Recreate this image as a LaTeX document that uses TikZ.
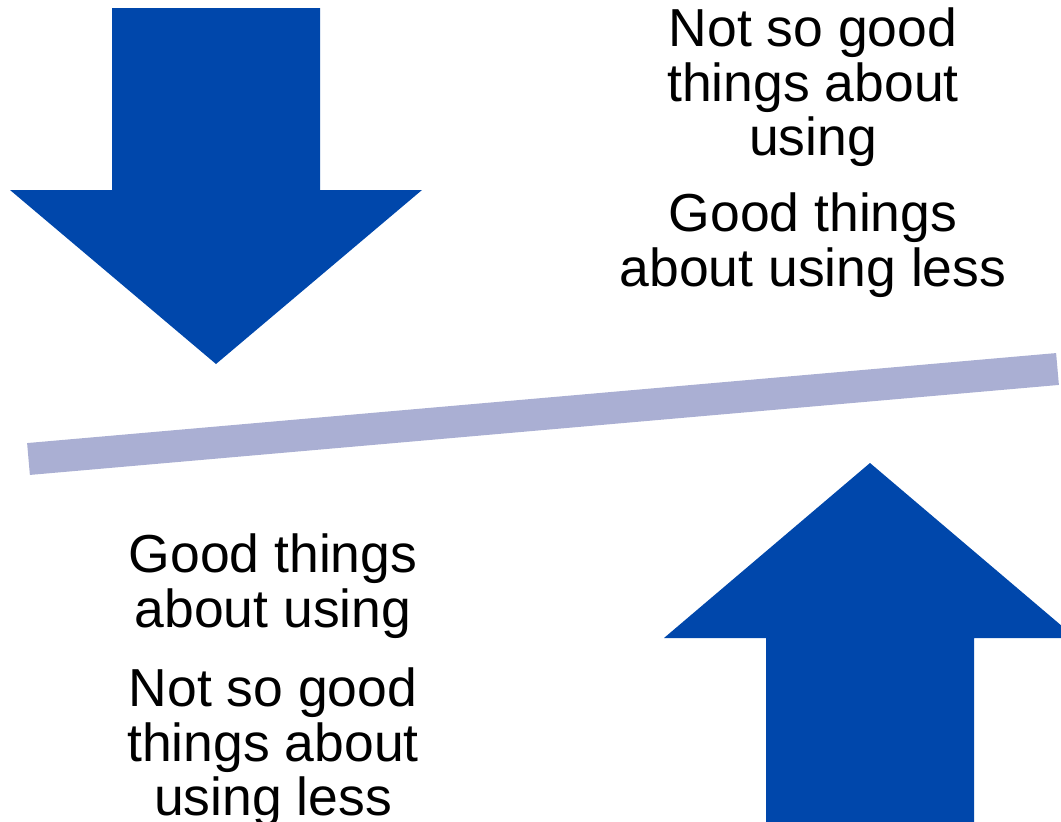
\documentclass[tikz,border=0pt]{standalone}
\usepackage{fontspec}
\setmainfont{Liberation Sans}
\definecolor{arrowblue}{HTML}{0047AB}
\definecolor{beam}{HTML}{AAAFD3}

\begin{document}
\begin{tikzpicture}[x=1pt,y=-1pt,
  txt/.style={align=center, font=\fontsize{53.5}{54.5}\selectfont, inner sep=0pt, anchor=north},
  arr/.style={fill=arrowblue, draw=none},
]
\useasboundingbox (0,0) rectangle (1061,822);
\clip (0,0) rectangle (1061,822);
% downward arrow
\fill[arr] (112,8) -- (320,8) -- (320,190) -- (422,190) -- (216,364) -- (10,190) -- (112,190) -- cycle;
% upward arrow, running off the right and bottom edges
\fill[arr] (766,830) -- (766,638) -- (664,638) -- (870,463) -- (1076,638) -- (974,638) -- (974,830) -- cycle;
% tilted beam
\draw[line width=32pt, draw=beam] (28.5,459) -- (1057.5,369);
% labels
\node[txt] (notgood) at (813,8) {Not so good\\things about\\using};
\node[txt] (goodless) at (813,193) {Good things\\about using less};
\node[txt] (good) at (273,534) {Good things\\about using};
\node[txt] (notgoodless) at (273,668) {Not so good\\things about\\using less};
\end{tikzpicture}
\end{document}
